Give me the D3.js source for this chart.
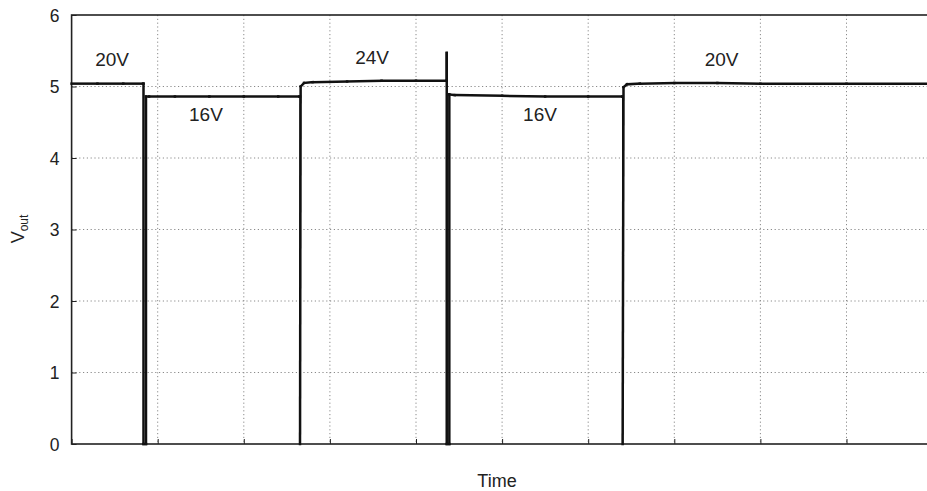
<!DOCTYPE html>
<html>
<head>
<meta charset="utf-8">
<script src="https://cdn.jsdelivr.net/npm/d3@7"></script>
<style>
  html, body { margin: 0; padding: 0; background: #fff; }
  svg { display: block; }
</style>
</head>
<body>
<svg id="chart" width="927" height="491"></svg>
<script>
// ---- data ----
const yTicks = [0, 1, 2, 3, 4, 5, 6];
const xGrid = [0, 1, 2, 3, 4, 5, 6, 7, 8, 9, 10];
// Vout trace (time in grid divisions, volts)
const time = [0, 0.30, 0.60, 0.83, 0.835, 0.835, 0.864, 0.864, 0.90, 1.2, 1.6, 2.0, 2.4, 2.645,
              2.653, 2.653, 2.66, 2.70, 2.80, 3.2, 3.6, 4.0, 4.353,
              4.357, 4.357, 4.357, 4.387, 4.387, 4.45, 5.0, 5.5, 6.0, 6.395,
              6.40, 6.40, 6.41, 6.45, 6.60, 7.0, 7.5, 8.0, 9.0, 10.0];
const vout = [5.04, 5.04, 5.04, 5.04, 5.04, 0, 0, 4.86, 4.86, 4.86, 4.86, 4.86, 4.86, 4.86,
              4.86, 0, 5.00, 5.05, 5.06, 5.07, 5.08, 5.08, 5.08,
              5.08, 5.47, 0, 0, 4.89, 4.88, 4.87, 4.86, 4.86, 4.86,
              4.86, 0, 4.99, 5.03, 5.04, 5.05, 5.05, 5.04, 5.04, 5.04];
// switching instants drawn as a single thin edge
const thinEdges = [2.653, 6.40];
const labels = ["20V", "16V", "24V", "16V", "20V"];
const labelX = [0.47, 1.56, 3.49, 5.44, 7.55];
const labelY = [5.28, 4.52, 5.32, 4.52, 5.28];

// ---- layout ----
const svg = d3.select("#chart");
const L = 71.6, R = 932.6, T = 15, B = 444;
const x = d3.scaleLinear().domain([0, 10]).range([L, R]);
const y = d3.scaleLinear().domain([0, 6]).range([B, T]);
const font = "Helvetica, Arial, 'Liberation Sans', sans-serif";

// grid
const grid = svg.append("g").attr("stroke", "#8a8a8a").attr("stroke-width", 1)
  .attr("stroke-dasharray", "1.2,2.6");
grid.selectAll("line.v").data(xGrid.slice(1, -1)).join("line")
  .attr("x1", d => x(d)).attr("x2", d => x(d)).attr("y1", T).attr("y2", B);
grid.selectAll("line.h").data(yTicks.slice(1, -1)).join("line")
  .attr("x1", L).attr("x2", R).attr("y1", d => y(d)).attr("y2", d => y(d));

// axes
const yAxis = d3.axisLeft(y).tickValues(yTicks).tickSize(-5).tickPadding(12).tickFormat(d3.format("d"));
const gy = svg.append("g").attr("transform", `translate(${L},0)`).call(yAxis);
const xAxis = d3.axisBottom(x).tickValues(xGrid).tickSize(-5).tickFormat("");
const gx = svg.append("g").attr("transform", `translate(0,${B})`).call(xAxis);
[gx, gy].forEach(g => {
  g.selectAll(".domain").remove();
  g.selectAll(".tick line").attr("stroke", "#222").attr("stroke-width", 1);
  g.selectAll("text").attr("font-family", font).attr("font-size", 17.5).attr("fill", "#222");
});
gy.selectAll("text").attr("dy", "0.35em");

// frame
svg.append("rect").attr("x", L).attr("y", T).attr("width", R - L).attr("height", B - T)
  .attr("fill", "none").attr("stroke", "#222").attr("stroke-width", 1.6);

// trace, drawn segment by segment
const segs = d3.range(time.length - 1).map(i => ({
  x1: time[i], y1: vout[i], x2: time[i + 1], y2: vout[i + 1],
  thin: time[i] === time[i + 1] && thinEdges.includes(time[i])
}));
svg.append("g").selectAll("line").data(segs).join("line")
  .attr("x1", d => x(d.x1)).attr("y1", d => y(d.y1))
  .attr("x2", d => x(d.x2)).attr("y2", d => y(d.y2))
  .attr("stroke", "#111")
  .attr("stroke-width", d => d.thin ? 1.3 : 2.5)
  .attr("stroke-linecap", d => d.thin ? "butt" : "square");

// annotations
svg.selectAll("text.ann").data(labels).join("text").attr("class", "ann")
  .attr("x", (d, i) => x(labelX[i])).attr("y", (d, i) => y(labelY[i]))
  .attr("text-anchor", "middle").attr("font-family", font).attr("font-size", 19)
  .attr("fill", "#222").text(d => d);

// axis titles
svg.append("text").attr("x", 497).attr("y", 487).attr("text-anchor", "middle")
  .attr("font-family", font).attr("font-size", 18).attr("fill", "#222").text("Time");
const yl = svg.append("text").attr("transform", "translate(24,229) rotate(-90)")
  .attr("text-anchor", "middle").attr("font-family", font).attr("font-size", 18).attr("fill", "#222");
yl.append("tspan").text("V");
yl.append("tspan").attr("font-size", 12).attr("dy", 4).text("out");
</script>
</body>
</html>
